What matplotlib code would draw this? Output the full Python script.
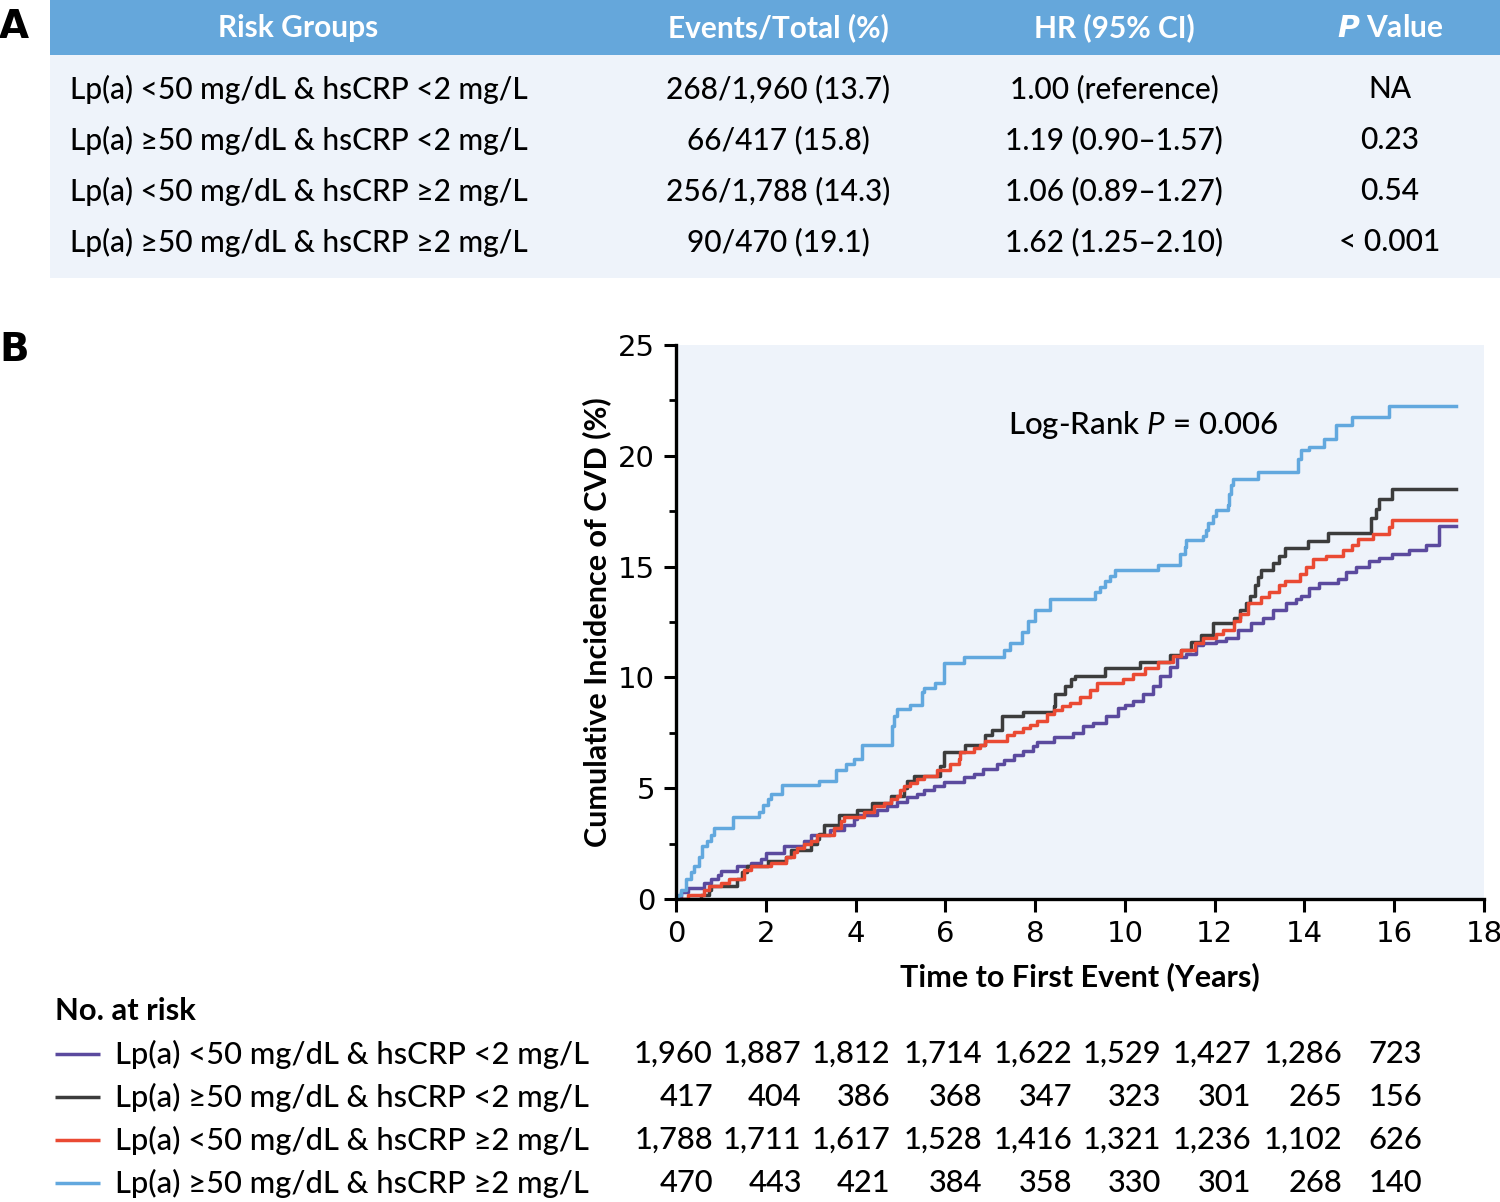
import matplotlib
matplotlib.use("Agg")
import matplotlib.pyplot as plt
from matplotlib.patches import Rectangle
from matplotlib.ticker import MultipleLocator
from matplotlib.transforms import blended_transform_factory

plt.rcParams["font.family"] = ["Lato", "DejaVu Sans"]
plt.rcParams["mathtext.fontset"] = "custom"
plt.rcParams["mathtext.rm"] = "Lato"
plt.rcParams["mathtext.it"] = "Lato:italic"
plt.rcParams["mathtext.bf"] = "Lato:bold"

# ---- panel A table ----
GROUPS = ["Lp(a) <50 mg/dL & hsCRP <2 mg/L", "Lp(a) \u226550 mg/dL & hsCRP <2 mg/L",
          "Lp(a) <50 mg/dL & hsCRP \u22652 mg/L", "Lp(a) \u226550 mg/dL & hsCRP \u22652 mg/L"]
EVENTS = ["268/1,960 (13.7)", "66/417 (15.8)", "256/1,788 (14.3)", "90/470 (19.1)"]
HR_CI = ["1.00 (reference)", "1.19 (0.90\u20131.57)", "1.06 (0.89\u20131.27)", "1.62 (1.25\u20132.10)"]
PVALS = ["NA", "0.23", "0.54", "< 0.001"]
COLORS = ["#5b4a9e", "#3c3c3c", "#ea4a33", "#62a8de"]

# ---- panel B cumulative incidence (%) step points ----
T_G1 = [0, 0.11, 0.26, 0.63, 0.78, 0.93, 1.0, 1.37, 1.67, 1.89, 2.0, 2.41, 2.85, 3.0, 3.44, 3.74,
        3.96, 4.04, 4.48, 4.7, 4.93, 5.15, 5.37, 5.52, 5.74, 5.96, 6.41, 6.63, 6.85, 7.15, 7.3,
        7.52, 7.74, 7.96, 8.04, 8.41, 8.85, 9.07, 9.3, 9.59, 9.85, 10.0, 10.19, 10.41, 10.63,
        10.78, 11.0, 11.15, 11.37, 11.59, 11.74, 12.04, 12.26, 12.52, 12.81, 13.07, 13.3, 13.59,
        13.81, 13.93, 14.11, 14.33, 14.74, 14.93, 15.15, 15.44, 15.67, 15.96, 16.33, 16.7, 17.0, 17.37]
V_G1 = [0, 0.33, 0.49, 0.74, 0.9, 1.07, 1.26, 1.48, 1.64, 1.8, 2.08, 2.41, 2.62, 2.87, 3.11, 3.36,
        3.61, 3.8, 4.02, 4.18, 4.38, 4.59, 4.75, 4.92, 5.08, 5.28, 5.49, 5.66, 5.85, 6.07, 6.26,
        6.48, 6.67, 6.89, 7.08, 7.33, 7.49, 7.79, 7.95, 8.28, 8.61, 8.77, 8.93, 9.26, 9.59,
        10.08, 10.49, 10.9, 11.07, 11.48, 11.56, 11.64, 11.8, 12.13, 12.46, 12.7, 13.03, 13.36,
        13.52, 13.69, 14.02, 14.26, 14.43, 14.75, 15.0, 15.25, 15.41, 15.57, 15.74, 15.98, 16.84, 16.84]

T_G2 = [0, 0.56, 0.74, 0.78, 1.37, 1.48, 1.59, 2.04, 2.44, 2.56, 3.0, 3.15, 3.19, 3.3, 3.63, 4.04,
        4.37, 4.78, 5.07, 5.15, 5.3, 5.89, 5.96, 6.44, 6.89, 7.04, 7.26, 7.74, 8.41, 8.44, 8.67,
        8.81, 8.89, 9.56, 10.33, 11.0, 11.26, 11.48, 11.7, 11.96, 12.44, 12.56, 12.7, 12.78, 12.89,
        12.96, 13.04, 13.3, 13.44, 13.56, 14.07, 14.52, 15.48, 15.59, 15.67, 15.96, 17.37]
V_G2 = [0, 0.16, 0.41, 0.57, 0.9, 1.23, 1.48, 1.72, 1.89, 2.21, 2.46, 2.7, 2.95, 3.36, 3.77, 4.02,
        4.34, 4.67, 5.0, 5.33, 5.57, 5.98, 6.64, 6.93, 7.38, 7.62, 8.28, 8.44, 8.69, 9.26, 9.59,
        9.92, 10.08, 10.41, 10.7, 11.03, 11.23, 11.59, 11.92, 12.46, 12.7, 13.03, 13.36, 13.69, 14.18,
        14.51, 14.84, 15.16, 15.49, 15.82, 16.15, 16.51, 17.21, 17.62, 18.03, 18.52, 18.52]

T_G3 = [0, 0.26, 0.63, 0.74, 1.0, 1.19, 1.52, 1.67, 2.11, 2.44, 2.63, 2.7, 2.85, 3.0, 3.15, 3.52,
        3.67, 3.74, 4.19, 4.41, 4.63, 4.78, 4.93, 5.0, 5.07, 5.22, 5.37, 5.52, 5.81, 6.11, 6.3,
        6.33, 6.63, 6.78, 6.89, 7.37, 7.52, 7.74, 7.89, 8.04, 8.26, 8.41, 8.59, 8.78, 9.0, 9.22,
        9.37, 9.96, 10.19, 10.44, 10.74, 11.07, 11.26, 11.56, 11.74, 12.04, 12.19, 12.44, 12.56,
        12.74, 13.04, 13.22, 13.44, 13.56, 13.89, 14.04, 14.19, 14.48, 14.85, 15.07, 15.19, 15.52,
        15.89, 15.96, 17.37]
V_G3 = [0, 0.16, 0.41, 0.57, 0.74, 0.9, 1.31, 1.48, 1.64, 1.89, 2.13, 2.3, 2.46, 2.62, 2.87, 3.2,
        3.52, 3.72, 3.93, 4.18, 4.34, 4.51, 4.67, 4.92, 5.08, 5.25, 5.41, 5.57, 5.82, 6.07, 6.31,
        6.64, 6.8, 6.97, 7.13, 7.38, 7.54, 7.7, 7.87, 8.03, 8.36, 8.52, 8.69, 8.85, 9.1, 9.43,
        9.75, 9.92, 10.16, 10.41, 10.7, 10.98, 11.23, 11.56, 11.8, 11.97, 12.13, 12.54, 12.87,
        13.36, 13.61, 13.85, 14.18, 14.34, 14.67, 15.0, 15.33, 15.49, 15.74, 15.98, 16.23, 16.48,
        16.8, 17.1, 17.1]

T_G4 = [0, 0.05, 0.11, 0.22, 0.33, 0.41, 0.52, 0.59, 0.7, 0.78, 0.85, 1.26, 1.85, 1.93, 2.04, 2.11,
        2.37, 3.19, 3.56, 3.78, 3.96, 4.15, 4.81, 4.85, 4.93, 5.22, 5.48, 5.52, 5.78, 5.96, 6.41,
        7.3, 7.44, 7.7, 7.85, 8.0, 8.33, 9.33, 9.44, 9.56, 9.67, 9.78, 10.74, 11.22, 11.33, 11.37,
        11.74, 11.8, 11.85, 11.96, 12.04, 12.3, 12.33, 12.37, 12.41, 12.96, 13.85, 13.93, 14.11,
        14.44, 14.7, 15.07, 15.89, 17.37]
V_G4 = [0, 0.2, 0.41, 0.9, 1.23, 1.48, 1.89, 2.38, 2.62, 2.87, 3.2, 3.69, 3.93, 4.26, 4.5, 4.75,
        5.16, 5.33, 5.82, 6.07, 6.3, 6.97, 7.79, 8.28, 8.57, 8.77, 9.34, 9.5, 9.75, 10.66, 10.9,
        11.23, 11.56, 12.05, 12.54, 13.03, 13.52, 13.85, 14.1, 14.34, 14.59, 14.84, 15.08, 15.57, 15.9, 16.18,
        16.39, 16.64, 16.97, 17.3, 17.54, 17.79, 18.28, 18.69, 18.97, 19.26, 19.84, 20.25, 20.41,
        20.74, 21.39, 21.75, 22.25, 22.25]

# numbers at risk
AT_RISK = [
    ["1,960", "1,887", "1,812", "1,714", "1,622", "1,529", "1,427", "1,286", "723"],
    ["417", "404", "386", "368", "347", "323", "301", "265", "156"],
    ["1,788", "1,711", "1,617", "1,528", "1,416", "1,321", "1,236", "1,102", "626"],
    ["470", "443", "421", "384", "358", "330", "301", "268", "140"],
]
RISK_COL_X = [0.82, 2.8, 4.78, 6.83, 8.82, 10.8, 12.82, 14.85, 16.62]  # right edges, in years

W, H = 1500, 1202
fig = plt.figure(figsize=(15, 12.02), dpi=100)

# page-level layer in pixel coordinates
lay = fig.add_axes([0, 0, 1, 1], zorder=0)
lay.set_xlim(0, W); lay.set_ylim(H, 0)
lay.axis("off")

FS = 21.5
FS_RISK = 22.2
WT = 500
lay.text(14, 27, "A", fontsize=28, weight="bold", ha="center", va="center", family="DejaVu Sans")
lay.add_patch(Rectangle((50, 0), W - 50, 55, color="#65a7db", lw=0))
lay.add_patch(Rectangle((50, 55), W - 50, 223, color="#eef3fa", lw=0))
col_x = [298, 778, 1114, 1390]
headers = ["Risk Groups", "Events/Total (%)", "HR (95% CI)", r"$\mathbfit{P}$ Value"]
for x, h in zip(col_x, headers):
    lay.text(x, 28, h, color="white", fontsize=FS, weight="bold", ha="center", va="center")
for i in range(4):
    y = 89 + 51 * i
    lay.text(70, y, GROUPS[i], fontsize=FS, weight=WT, ha="left", va="center")
    lay.text(col_x[1], y, EVENTS[i], fontsize=FS, weight=WT, ha="center", va="center")
    lay.text(col_x[2], y, HR_CI[i], fontsize=FS, weight=WT, ha="center", va="center")
    lay.text(col_x[3], y, PVALS[i], fontsize=FS, weight=WT, ha="center", va="center")

lay.text(14, 350, "B", fontsize=28, weight="bold", ha="center", va="center", family="DejaVu Sans")

# ---- KM axes ----
ax = fig.add_axes([676 / W, 1 - 899 / H, 808 / W, 554 / H], zorder=1)
ax.set_facecolor("#eef3fa")
for t, v, c in zip([T_G1, T_G2, T_G3, T_G4], [V_G1, V_G2, V_G3, V_G4], COLORS):
    ax.step(t, v, where="post", color=c, lw=2.5)
ax.set_xlim(0, 18); ax.set_ylim(0, 25)
ax.xaxis.set_major_locator(MultipleLocator(2))
ax.yaxis.set_major_locator(MultipleLocator(5))
ax.yaxis.set_minor_locator(MultipleLocator(2.5))
for s in ["top", "right"]:
    ax.spines[s].set_visible(False)
for s in ["left", "bottom"]:
    ax.spines[s].set_linewidth(2.4)
ax.tick_params(which="major", length=9, width=2.2, labelsize=21, pad=6)
ax.tick_params(which="minor", length=5, width=2)
for lab in ax.get_xticklabels() + ax.get_yticklabels():
    lab.set_family("DejaVu Sans")
ax.text(7.4, 21.4, "Log-Rank $P$ = 0.006", fontsize=22.5, weight=WT, ha="left", va="center")

lay.text(597, 622, "Cumulative Incidence of CVD (%)", fontsize=22, weight="bold",
         rotation=90, ha="center", va="center")
lay.text(1080, 977, "Time to First Event (Years)", fontsize=22, weight="bold",
         ha="center", va="center")

# ---- numbers at risk ----
lay.text(55, 1011, "No. at risk", fontsize=FS_RISK, weight="bold", ha="left", va="center")
tr = blended_transform_factory(ax.transData, lay.transData)
for i in range(4):
    y = 1054 + 43 * i
    lay.plot([55, 100], [y, y], color=COLORS[i], lw=2.5, solid_capstyle="butt")
    lay.text(115, y, GROUPS[i], fontsize=FS_RISK, weight=WT, ha="left", va="center")
    for xr, n in zip(RISK_COL_X, AT_RISK[i]):
        lay.text(xr, y, n, fontsize=FS_RISK, weight=WT, ha="right", va="center", transform=tr)

fig.savefig("out.png", dpi=100)
